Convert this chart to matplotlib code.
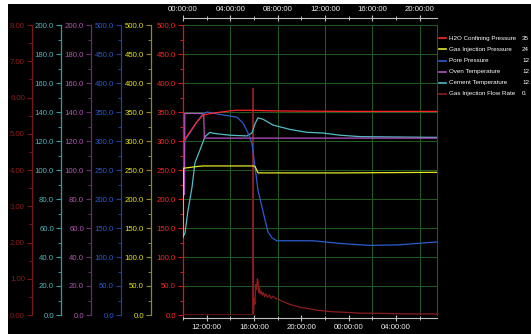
import matplotlib
matplotlib.use("Agg")
import matplotlib.pyplot as plt
from matplotlib.patches import Rectangle
from matplotlib.lines import Line2D
from matplotlib.ticker import MultipleLocator, FormatStrFormatter

plt.rcParams["font.family"] = ["Liberation Sans", "DejaVu Sans"]

# elapsed hours since test start (bottom clock axis starts at 10:00)
x_max = 21.47
elapsed_ticks = [0, 4, 8, 12, 16, 20]
elapsed_labels = ["00:00:00", "04:00:00", "08:00:00", "12:00:00", "16:00:00", "20:00:00"]
clock_ticks = [2, 6, 10, 14, 18]
clock_labels = ["12:00:00", "16:00:00", "20:00:00", "00:00:00", "04:00:00"]

# H2O confining pressure (0-500)
conf_h = [0.0, 0.59, 1.18, 1.69, 2.54, 3.97, 4.56, 5.66, 7.35, 9.9, 14.0, 21.47]
conf_v = [298, 316, 333, 345, 348, 352, 353, 353, 352, 351.5, 351, 351]

# gas injection pressure (0-500)
gasp_h = [0.0, 0.03, 1.18, 1.69, 5.92, 6.09, 6.34, 13.5, 21.47]
gasp_v = [134, 253, 256, 257, 257, 256, 245, 245, 246]

# pore pressure (0-500)
pore_h = [0.0, 0.59, 1.18, 1.69, 2.03, 2.54, 3.38, 4.56, 5.07, 5.49, 5.83, 6.09,
          6.34, 6.68, 6.93, 7.19, 7.52, 7.94, 11.0, 13.5, 15.8, 18.3, 21.47]
pore_v = [296, 314, 333, 347, 350, 348, 345, 341, 331, 314, 296, 255,
          215, 186, 164, 143, 133, 128, 128, 123, 120, 121, 126]

# oven temperature (0-200)
oven_h = [0.0, 0.12, 0.15, 1.75, 1.80, 21.47]
oven_v = [83, 83, 139, 139, 122, 122]

# cement temperature (0-200)
cem_h = [0.0, 0.17, 0.42, 0.76, 1.01, 1.44, 1.86, 2.28, 2.45, 2.87, 3.97, 5.41,
         5.83, 6.09, 6.34, 6.76, 7.61, 9.04, 10.48, 11.83, 13.27, 15.0, 21.47]
cem_v = [54, 56.5, 72, 88, 105, 114, 123, 126, 125.5, 125, 124, 123.5,
         125.5, 132, 136, 135, 131, 128, 126, 125.5, 124, 123, 122.5]

# gas injection flow rate (0-8)
flow_h = [0.0, 5.90, 5.93, 5.96, 6.00, 6.08, 6.15, 6.22, 6.28, 6.34, 6.40, 6.46,
          6.52, 6.60, 6.70, 6.80, 6.90, 7.00, 7.15, 7.30, 7.45, 7.60, 7.75, 7.90,
          8.05, 8.20, 8.40, 8.60, 8.80, 9.00, 9.25, 9.50, 9.80, 10.1, 10.5, 10.9,
          11.4, 12.0, 12.6, 13.3, 14.0, 15.0, 16.0, 17.5, 19.0, 20.5, 21.47]
flow_v = [0, 0, 6.26, 0.05, 0.45, 0.30, 0.85, 0.70, 1.00, 0.95, 0.62, 0.75,
          0.58, 0.66, 0.55, 0.62, 0.50, 0.58, 0.49, 0.55, 0.46, 0.52, 0.48, 0.44,
          0.47, 0.40, 0.38, 0.35, 0.32, 0.30, 0.27, 0.25, 0.22, 0.20, 0.18, 0.16,
          0.13, 0.11, 0.09, 0.08, 0.07, 0.05, 0.05, 0.04, 0.03, 0.03, 0.03]

legend_names = ["H2O Confining Pressure", "Gas Injection Pressure", "Pore Pressure",
                "Oven Temperature", "Cement Temperature", "Gas Injection Flow Rate"]
legend_values = ["35", "24", "12", "12", "12", "0."]

RED, YEL, BLU, PUR, CYA, DRED = "#ff2626", "#e6e628", "#2c5cd0", "#b452c0", "#52bcc4", "#8e1c1c"
GRID = "#215a21"
AXGREY = "#c0c0c0"
W, H = 531, 334
FS = 5.6

fig = plt.figure(figsize=(W / 100, H / 100), dpi=100, facecolor="white")
fig.add_artist(Rectangle((8 / W, 0), 1, 1 - 4 / H, transform=fig.transFigure,
                         facecolor="black", edgecolor="none", zorder=-1))

ax = fig.add_axes([183 / W, 1 - 315 / H, 254 / W, 290 / H])
ax.set_facecolor("black")
ax.set_xlim(0, x_max)
ax.set_ylim(0, 500)


def style_y(a, color, linecolor, major, minor, fmt, pos):
    a.yaxis.tick_left()
    a.yaxis.set_major_locator(MultipleLocator(major))
    a.yaxis.set_minor_locator(MultipleLocator(minor))
    a.yaxis.set_major_formatter(FormatStrFormatter(fmt))
    a.tick_params(axis="y", which="major", direction="out", length=3.5, width=0.8,
                  pad=1.5, labelsize=FS, labelcolor=color, color=linecolor)
    a.tick_params(axis="y", which="minor", direction="out", length=2, width=0.7,
                  color=linecolor)
    a.spines["left"].set_position(("axes", pos))
    a.spines["left"].set_visible(True)
    a.spines["left"].set_color(linecolor)
    a.spines["left"].set_linewidth(0.9)


# main axes: red pressure scale, elapsed time on top, grid
style_y(ax, RED, "#d81818", 50, 25, "%.1f", 0)
ax.xaxis.tick_top()
ax.set_xticks(elapsed_ticks, elapsed_labels)
ax.set_xticks([2, 6, 10, 14, 18], minor=True)
ax.tick_params(axis="x", which="major", direction="inout", length=4, width=0.8,
               pad=2, labelsize=FS, labelcolor="#eeeeee", color=AXGREY)
ax.tick_params(axis="x", which="minor", direction="inout", length=2.5, width=0.7,
               color=AXGREY)
ax.spines["top"].set_position(("outward", 5))
ax.spines["top"].set_color(AXGREY)
ax.spines["bottom"].set_visible(False)
ax.spines["right"].set_color(GRID)
ax.grid(True, which="major", color=GRID, linewidth=0.75)
ax.set_axisbelow(True)

# clock time on the bottom
sec = ax.secondary_xaxis(-3 / 290)
sec.set_xticks(clock_ticks, clock_labels)
sec.set_xticks([0, 4, 8, 12, 16, 20], minor=True)
sec.tick_params(axis="x", which="major", direction="inout", length=4, width=0.8,
                pad=2, labelsize=FS, labelcolor="#eeeeee", color=AXGREY)
sec.tick_params(axis="x", which="minor", direction="inout", length=2.5, width=0.7,
                color=AXGREY)
sec.spines["bottom"].set_color(AXGREY)

series = [
    (flow_h, flow_v, DRED, "#8c1c1c", "#7a1616", (0, 8), 1, 0.5, "%.2f", (32 - 183) / 254),
    (cem_h, cem_v, CYA, "#52b6be", "#3a9aa2", (0, 200), 20, 10, "%.1f", (61 - 183) / 254),
    (oven_h, oven_v, PUR, "#b456b4", "#6a2c6a", (0, 200), 20, 10, "%.1f", (91 - 183) / 254),
    (pore_h, pore_v, BLU, "#2a5ad0", "#22408c", (0, 500), 50, 25, "%.1f", (121 - 183) / 254),
    (gasp_h, gasp_v, YEL, "#e4e41c", "#8a8a2c", (0, 500), 50, 25, "%.1f", (151 - 183) / 254),
]
for hh, vv, lc, tc, sc, lim, major, minor, fmt, pos in series:
    t = ax.twinx()
    t.set_ylim(*lim)
    for s in ("top", "right", "bottom"):
        t.spines[s].set_visible(False)
    style_y(t, tc, sc, major, minor, fmt, pos)
    t.plot(hh, vv, color=lc, linewidth=0.9)

# confining pressure drawn last, on the main scale
top = ax.twinx()
top.set_ylim(0, 500)
top.axis("off")
top.plot(conf_h, conf_v, color=RED, linewidth=0.9)

# legend on the right
for i, (name, val, c) in enumerate(zip(legend_names, legend_values,
                                       [RED, YEL, BLU, PUR, CYA, DRED])):
    y = 1 - (38.3 + 11.1 * i) / H
    fig.add_artist(Line2D([439 / W, 446 / W], [y, y], transform=fig.transFigure,
                          color=c, linewidth=1.2))
    fig.text(449 / W, y, name, color="white", fontsize=4.5, va="center", ha="left")
    fig.text(522 / W, y, val, color="white", fontsize=4.5, va="center", ha="left")

fig.savefig("out.png", dpi=100, facecolor="white")
